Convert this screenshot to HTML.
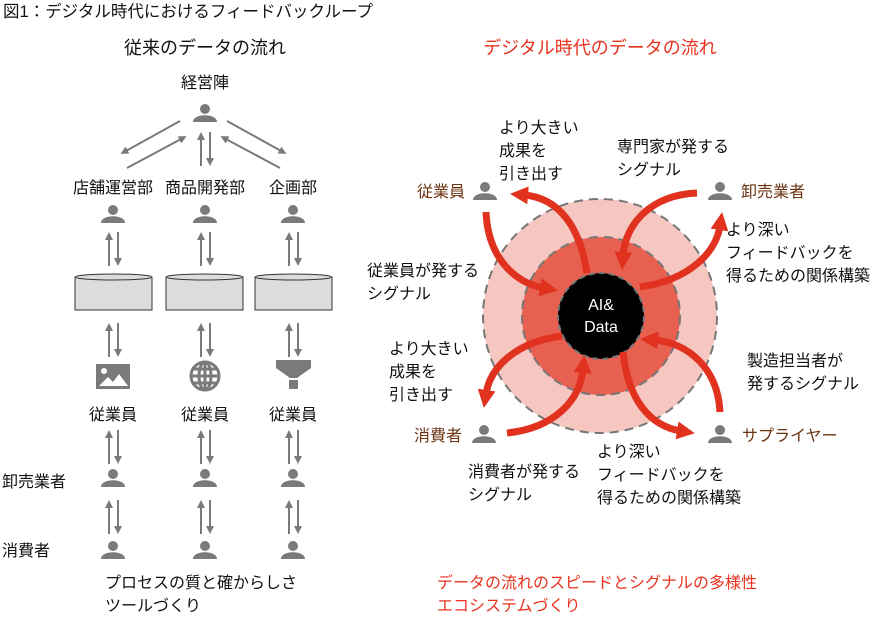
<!DOCTYPE html>
<html><head><meta charset="utf-8"><style>
html,body{margin:0;padding:0;background:#fff;}
svg{display:block;font-family:"Liberation Sans","Noto Sans CJK JP",sans-serif;}
text{font-size:16px;fill:#111;}
.r{fill:#e8321e;}
.b{fill:#6b3310;}
.h{font-size:18px;}
</style></head><body>
<svg width="883" height="617" viewBox="0 0 883 617" xmlns="http://www.w3.org/2000/svg">
<defs>
<g id="p"><circle cx="0" cy="-5" r="5" fill="#7a7a7a"/><path d="M-12,8 C-12,-1 12,-1 12,8 Z" fill="#7a7a7a"/></g>
<marker id="ga" markerWidth="8" markerHeight="8" refX="4" refY="4" orient="auto" markerUnits="userSpaceOnUse"><path d="M0,0 L8,4 L0,8 Z" fill="#7a7a7a"/></marker>
<marker id="ra" markerWidth="18" markerHeight="18" refX="4" refY="9" orient="auto" markerUnits="userSpaceOnUse"><path d="M0,0 L18,9 L0,18 Z" fill="#e0321f"/></marker>
<g id="ud"><line x1="-4" y1="34" x2="-4" y2="4" stroke="#7a7a7a" stroke-width="2" marker-end="url(#ga)"/><line x1="5" y1="0" x2="5" y2="30" stroke="#7a7a7a" stroke-width="2" marker-end="url(#ga)"/></g>
</defs>
<text x="3" y="17" style="font-size:16.5px">図1：デジタル時代におけるフィードバックループ</text>
<text x="205" y="54" text-anchor="middle" class="h">従来のデータの流れ</text>
<text x="600" y="54" text-anchor="middle" class="r h">デジタル時代のデータの流れ</text>

<text x="205" y="88" text-anchor="middle">経営陣</text>
<use href="#p" x="205" y="114"/>
<g stroke="#7a7a7a" stroke-width="2">
<line x1="180" y1="121" x2="124" y2="152" marker-end="url(#ga)"/>
<line x1="127" y1="168" x2="183" y2="138" marker-end="url(#ga)"/>
<line x1="227" y1="121" x2="283" y2="152" marker-end="url(#ga)"/>
<line x1="280" y1="168" x2="224" y2="138" marker-end="url(#ga)"/>
</g>
<use href="#ud" x="205" y="132"/>
<text x="113" y="193" text-anchor="middle">店舗運営部</text>
<text x="205" y="193" text-anchor="middle">商品開発部</text>
<text x="293" y="193" text-anchor="middle">企画部</text>
<use href="#p" x="113" y="215"/><use href="#p" x="205" y="215"/><use href="#p" x="293" y="215"/>
<use href="#ud" x="113" y="232"/><use href="#ud" x="205" y="232"/><use href="#ud" x="293" y="232"/>
<g fill="#dcdcdc" stroke="#333" stroke-width="1">
<path d="M75,277 L75,310 L152,310 L152,277"/><ellipse cx="113.5" cy="277" rx="38.5" ry="3"/>
<path d="M166,277 L166,310 L243,310 L243,277"/><ellipse cx="204.5" cy="277" rx="38.5" ry="3"/>
<path d="M255,277 L255,310 L332,310 L332,277"/><ellipse cx="293.5" cy="277" rx="38.5" ry="3"/>
</g>
<use href="#ud" x="113" y="323"/><use href="#ud" x="205" y="323"/><use href="#ud" x="293" y="323"/>
<rect x="96" y="364" width="34" height="25" fill="#7a7a7a"/>
<circle cx="104" cy="371" r="3" fill="#fff"/>
<path d="M99,386 L108,377 L113,382 L119,374 L128,386 Z" fill="#fff"/>
<g fill="none" stroke="#7a7a7a" stroke-width="3"><circle cx="205" cy="376" r="14"/><ellipse cx="205" cy="376" rx="6" ry="14"/><line x1="191" y1="376" x2="219" y2="376"/><line x1="205" y1="362" x2="205" y2="390"/><line x1="193" y1="369" x2="217" y2="369"/><line x1="193" y1="383" x2="217" y2="383"/></g>
<path d="M276,360 L311,360 L311,368 L297,378 L290,378 L276,368 Z" fill="#7a7a7a"/>
<rect x="289" y="380" width="9" height="9" fill="#7a7a7a"/>
<text x="113" y="420" text-anchor="middle">従業員</text>
<text x="205" y="420" text-anchor="middle">従業員</text>
<text x="293" y="420" text-anchor="middle">従業員</text>
<use href="#ud" x="113" y="430"/><use href="#ud" x="205" y="430"/><use href="#ud" x="293" y="430"/>
<text x="2" y="487">卸売業者</text>
<use href="#p" x="113" y="479"/><use href="#p" x="205" y="479"/><use href="#p" x="293" y="479"/>
<use href="#ud" x="113" y="500"/><use href="#ud" x="205" y="500"/><use href="#ud" x="293" y="500"/>
<text x="2" y="556">消費者</text>
<use href="#p" x="113" y="551"/><use href="#p" x="205" y="551"/><use href="#p" x="293" y="551"/>
<text x="105" y="588">プロセスの質と確からしさ</text>
<text x="105" y="611">ツールづくり</text>

<circle cx="600" cy="316" r="117" fill="#f6c6c0" stroke="#777" stroke-width="2" stroke-dasharray="9,6"/>
<circle cx="601" cy="316" r="79" fill="#e86050" stroke="#777" stroke-width="2" stroke-dasharray="9,6"/>
<circle cx="601" cy="316" r="43" fill="#000" stroke="#777" stroke-width="2" stroke-dasharray="6,4"/>
<text x="601" y="310" text-anchor="middle" style="fill:#fff;font-size:16px">AI&amp;</text>
<text x="601" y="332" text-anchor="middle" style="fill:#fff;font-size:16px">Data</text>
<g fill="none" stroke="#e0321f" stroke-width="7" marker-end="url(#ra)">
<path d="M486,212 C488,258 515,283 544,288"/>
<path d="M587,273 C580,228 560,198 524,195"/>
<path d="M697,193 C650,195 625,225 623,256"/>
<path d="M640,287 C690,280 716,252 720,226"/>
<path d="M720,412 C718,370 690,343 654,340"/>
<path d="M623,352 C628,400 650,426 681,431"/>
<path d="M507,433 C555,428 580,400 583,369"/>
<path d="M562,336 C515,342 490,368 486,394"/>
</g>
<use href="#p" x="485" y="192"/><use href="#p" x="720" y="192"/>
<use href="#p" x="484" y="435"/><use href="#p" x="720" y="435"/>
<text x="417" y="197" class="b">従業員</text>
<text x="741" y="197" class="b">卸売業者</text>
<text x="414" y="441" class="b">消費者</text>
<text x="742" y="441" class="b">サプライヤー</text>
<text x="499" y="133">より大きい</text><text x="499" y="156">成果を</text><text x="499" y="179">引き出す</text>
<text x="617" y="152">専門家が発する</text><text x="617" y="175">シグナル</text>
<text x="367" y="276">従業員が発する</text><text x="367" y="299">シグナル</text>
<text x="726" y="235">より深い</text><text x="726" y="258">フィードバックを</text><text x="726" y="281">得るための関係構築</text>
<text x="389" y="354">より大きい</text><text x="389" y="377">成果を</text><text x="389" y="400">引き出す</text>
<text x="747" y="366">製造担当者が</text><text x="747" y="389">発するシグナル</text>
<text x="468" y="477">消費者が発する</text><text x="468" y="500">シグナル</text>
<text x="597" y="457">より深い</text><text x="597" y="480">フィードバックを</text><text x="597" y="503">得るための関係構築</text>
<text x="437" y="588" class="r">データの流れのスピードとシグナルの多様性</text>
<text x="437" y="611" class="r">エコシステムづくり</text>
</svg>
</body></html>
